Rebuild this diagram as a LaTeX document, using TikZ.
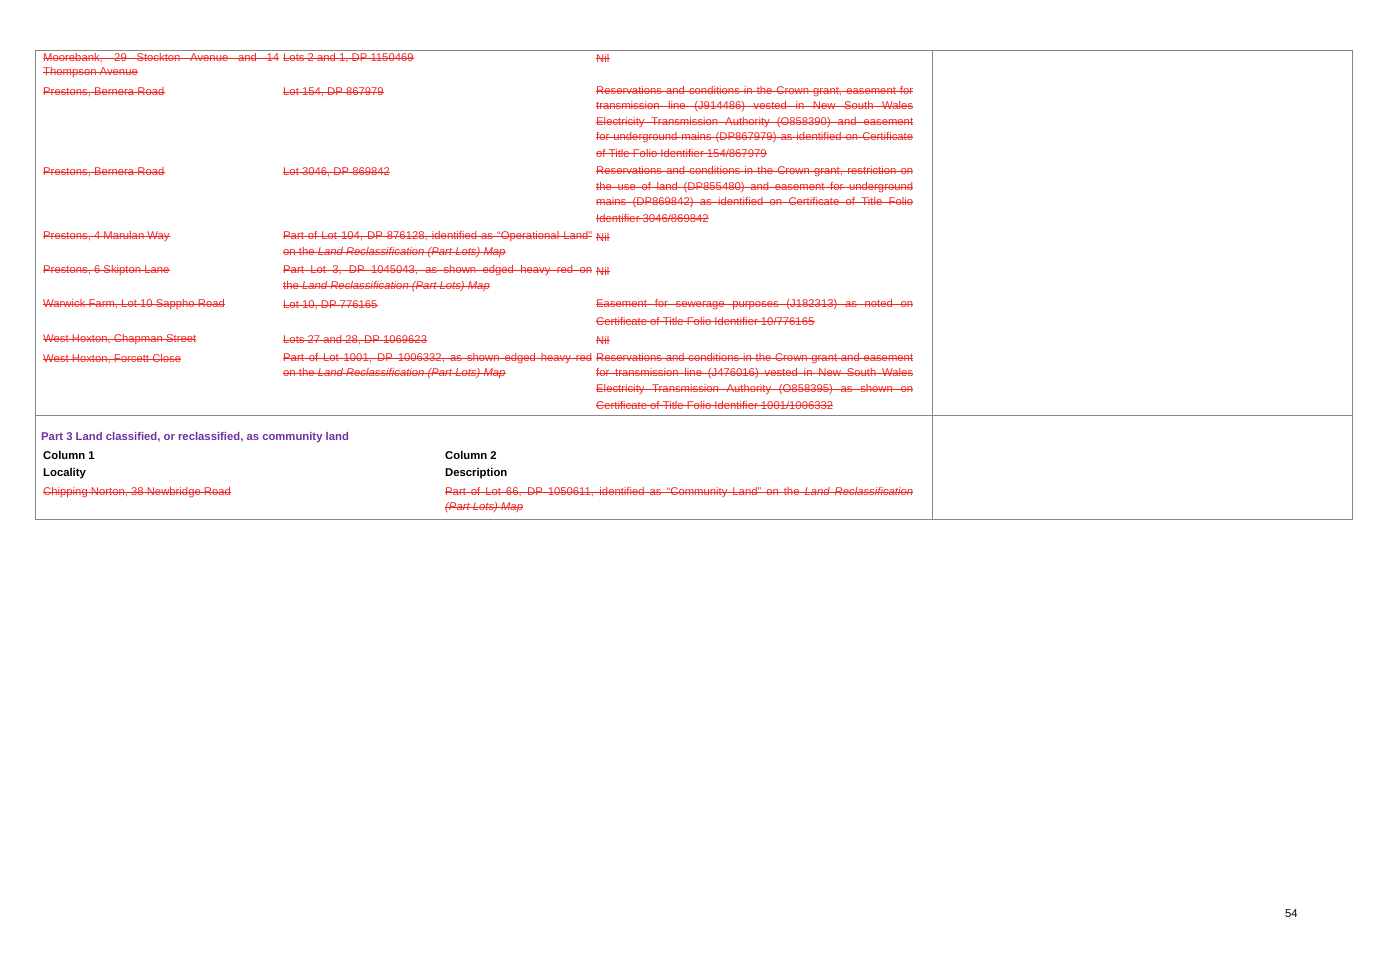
\documentclass[tikz,border=0pt]{standalone}
\usepackage{fontspec}
\setmainfont{Liberation Sans}
\usepackage{xcolor}
\definecolor{strk}{RGB}{240, 40, 40}
\definecolor{prp}{RGB}{112, 48, 160}
\definecolor{rule}{HTML}{888888}
\newcommand{\jline}[2]{\makebox[#1][s]{#2}}
\newcommand{\pline}[1]{#1}
\newcommand{\lrm}{\textit{Land Reclassification (Part Lots) Map}}
\tikzset{
    cell/.style={anchor=west, inner sep=0pt, text=strk, font=\fontsize{11.3}{14}\selectfont,
        append after command={
            \pgfextra{\draw[strk, line width=0.6pt] ([yshift=3.4pt]\tikzlastnode.base west) -- ([yshift=3.4pt]\tikzlastnode.base east);}
        }},
    hd/.style={anchor=west, inner sep=0pt, font=\fontsize{11.3}{14}\selectfont\bfseries},
    border/.style={draw=rule, line width=1pt}
}
\begin{document}
\begin{tikzpicture}[x=1pt, y=-1pt]
    \useasboundingbox (0,0) rectangle (1382,977);
    % table frame
    \draw[border] (35,50) rectangle (1352,519);
    \draw[border] (932,50) -- (932,519);
    \draw[border] (35,415) -- (1352,415);

    % Part 2 rows
    \node[cell] (r1a) at (43,58) {\jline{236pt}{Moorebank, 29 Stockton Avenue and 14}};
    \node[cell] (r1b) at (43,73) {\pline{Thompson Avenue}};
    \node[cell] (r1c) at (283,58) {\pline{Lots 2 and 1, DP 1150469}};
    \node[cell] (r1d) at (596,58) {\pline{Nil}};

    \node[cell] (r2a) at (43,92) {\pline{Prestons, Bernera Road}};
    \node[cell] (r2b) at (283,92) {\pline{Lot 154, DP 867979}};
    \node[cell] (r2c) at (596,92) {\jline{317pt}{Reservations and conditions in the Crown grant, easement for}};
    \node[cell] (r2d) at (596,107) {\jline{317pt}{transmission line (J914486) vested in New South Wales}};
    \node[cell] (r2e) at (596,123) {\jline{317pt}{Electricity Transmission Authority (O858390) and easement}};
    \node[cell] (r2f) at (596,138) {\jline{317pt}{for underground mains (DP867979) as identified on Certificate}};
    \node[cell] (r2g) at (596,153) {\pline{of Title Folio Identifier 154/867979}};

    \node[cell] (r3a) at (43,172) {\pline{Prestons, Bernera Road}};
    \node[cell] (r3b) at (283,172) {\pline{Lot 3046, DP 869842}};
    \node[cell] (r3c) at (596,172) {\jline{317pt}{Reservations and conditions in the Crown grant, restriction on}};
    \node[cell] (r3d) at (596,188) {\jline{317pt}{the use of land (DP855480) and easement for underground}};
    \node[cell] (r3e) at (596,203) {\jline{317pt}{mains (DP869842) as identified on Certificate of Title Folio}};
    \node[cell] (r3f) at (596,218) {\pline{Identifier 3046/869842}};

    \node[cell] (r4a) at (43,237) {\pline{Prestons, 4 Marulan Way}};
    \node[cell] (r4b) at (283,237) {\jline{309pt}{Part of Lot 104, DP 876128, identified as “Operational Land”}};
    \node[cell] (r4c) at (283,253) {\pline{on the \lrm}};
    \node[cell] (r4d) at (596,237) {\pline{Nil}};

    \node[cell] (r5a) at (43,271) {\pline{Prestons, 6 Skipton Lane}};
    \node[cell] (r5b) at (283,271) {\jline{309pt}{Part Lot 3, DP 1045043, as shown edged heavy red on}};
    \node[cell] (r5c) at (283,287) {\pline{the \lrm}};
    \node[cell] (r5d) at (596,271) {\pline{Nil}};

    \node[cell] (r6a) at (43,305) {\pline{Warwick Farm, Lot 10 Sappho Road}};
    \node[cell] (r6b) at (283,305) {\pline{Lot 10, DP 776165}};
    \node[cell] (r6c) at (596,305) {\jline{317pt}{Easement for sewerage purposes (J182313) as noted on}};
    \node[cell] (r6d) at (596,321) {\pline{Certificate of Title Folio Identifier 10/776165}};

    \node[cell] (r7a) at (43,340) {\pline{West Hoxton, Chapman Street}};
    \node[cell] (r7b) at (283,340) {\pline{Lots 27 and 28, DP 1069623}};
    \node[cell] (r7c) at (596,340) {\pline{Nil}};

    \node[cell] (r8a) at (43,359) {\pline{West Hoxton, Forcett Close}};
    \node[cell] (r8b) at (283,359) {\jline{309pt}{Part of Lot 1001, DP 1006332, as shown edged heavy red}};
    \node[cell] (r8c) at (283,374) {\pline{on the \lrm}};
    \node[cell] (r8d) at (596,359) {\jline{317pt}{Reservations and conditions in the Crown grant and easement}};
    \node[cell] (r8e) at (596,374) {\jline{317pt}{for transmission line (J476016) vested in New South Wales}};
    \node[cell] (r8f) at (596,390) {\jline{317pt}{Electricity Transmission Authority (O858395) as shown on}};
    \node[cell] (r8g) at (596,405) {\pline{Certificate of Title Folio Identifier 1001/1006332}};

    % Part 3
    \node[hd, text=prp] (p3) at (41,438) {Part 3 Land classified, or reclassified, as community land};
    \node[hd] (c1) at (43,455) {Column 1};
    \node[hd] (c2) at (445,455) {Column 2};
    \node[hd] (l1) at (43,474) {Locality};
    \node[hd] (l2) at (445,474) {Description};
    \node[cell] (q1) at (43,493) {\pline{Chipping Norton, 38 Newbridge Road}};
    \node[cell] (q2) at (445,493) {\jline{468pt}{Part of Lot 66, DP 1050611, identified as “Community Land” on the \textit{Land Reclassification}}};
    \node[cell] (q3) at (445,508) {\pline{\textit{(Part Lots) Map}}};

    % page number
    \node[anchor=west, inner sep=0pt, font=\fontsize{11.3}{14}\selectfont] (pg) at (1285,914) {54};
\end{tikzpicture}
\end{document}
